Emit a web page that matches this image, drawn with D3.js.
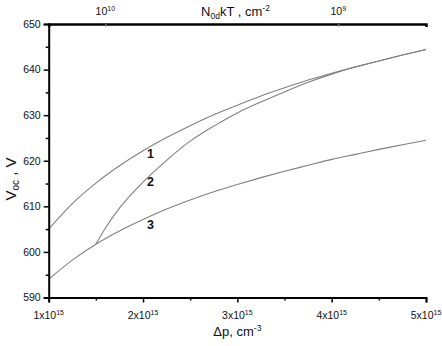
<!DOCTYPE html>
<html><head><meta charset="utf-8">
<script src="https://cdn.jsdelivr.net/npm/d3@7/dist/d3.min.js"></script>
<style>body{margin:0;background:#fff}svg{display:block}text{font-family:"Liberation Sans",Arial,sans-serif}</style>
</head><body><div id="chart"></div>
<script>
// Δp in units of 1e15 cm^-3, Voc in mV
const dp = [1, 1.25, 1.5, 1.75, 2, 2.25, 2.5, 2.75, 3, 3.25, 3.5, 3.75, 4, 4.25, 4.5, 4.75, 5];
const curve1 = [605.0, 610.6, 615.1, 618.9, 622.2, 625.1, 627.7, 630.1, 632.2, 634.2, 636.0, 637.7, 639.2, 640.6, 641.9, 643.2, 644.4];
const curve3 = [594.0, 598.2, 601.7, 604.6, 607.1, 609.4, 611.4, 613.2, 614.8, 616.3, 617.7, 619.0, 620.3, 621.4, 622.5, 623.5, 624.5];
const dp2 = [1.5, 1.6, 1.75, 2, 2.25, 2.5, 2.75, 3, 3.25, 3.5, 3.75, 4, 4.25, 4.5, 4.75, 5];
const curve2 = [601.7, 605.2, 609.6, 615.3, 620.1, 624.3, 627.6, 630.5, 632.9, 635.1, 637.2, 639.0, 640.55, 641.9, 643.2, 644.4];
const xTicks = [1, 2, 3, 4, 5];
const xMinor = [1.5, 2.5, 3.5, 4.5];
const yTicks = [590, 600, 610, 620, 630, 640, 650];
const yMinor = [595, 605, 615, 625, 635, 645];
const topTickExp = ["10", "9"];          // N0d kT = 10^exp
const topTickDp = [1.6, 4.07];           // Δp position of each top tick
const curveLabels = ["1", "2", "3"];
const labelDp = [2.08, 2.08, 2.08];
const labelV = [621.6, 615.4, 606.0];

const W = 442, H = 346;
const m = {l: 48.7, r: 16, t: 24, b: 48.5};
const svg = d3.select("#chart").append("svg").attr("width", W).attr("height", H);
const x = d3.scaleLinear().domain([1, 5]).range([m.l, W - m.r]);
const y = d3.scaleLinear().domain([590, 650]).range([H - m.b, m.t]);

const line = d3.line().x(d => x(d[0])).y(d => y(d[1])).curve(d3.curveMonotoneX);
const col = "#808080";
[[dp, curve1], [dp2, curve2], [dp, curve3]].forEach(([xs, ys]) => {
  svg.append("path").attr("d", line(xs.map((v, i) => [v, ys[i]])))
    .attr("fill", "none").attr("stroke", col).attr("stroke-width", 1.1);
});

// bottom axis
const gx = svg.append("g").attr("transform", `translate(0,${y(590)})`)
  .call(d3.axisBottom(x).tickValues(xTicks).tickSize(5).tickFormat(""));
gx.select(".domain").attr("stroke-width", 2);
gx.selectAll(".tick line").attr("stroke-width", 1.5);
svg.append("g").attr("transform", `translate(0,${y(590)})`)
  .call(d3.axisBottom(x).tickValues(xMinor).tickSize(3).tickFormat(""))
  .call(g => g.select(".domain").remove()).selectAll(".tick line").attr("stroke-width", 1.5);
xTicks.forEach(v => {
  const t = svg.append("text").attr("x", x(v)).attr("y", y(590) + 21).attr("text-anchor", "middle")
    .attr("font-size", 10.5).attr("fill", "#111");
  t.append("tspan").text(v + "x10");
  t.append("tspan").attr("font-size", 7).attr("dy", -4).text("15");
});

// left axis
const gy = svg.append("g").attr("transform", `translate(${x(1)},0)`)
  .call(d3.axisLeft(y).tickValues(yTicks).tickSize(5).tickPadding(3).tickFormat(d3.format("d")));
gy.select(".domain").attr("stroke-width", 2);
gy.selectAll(".tick line").attr("stroke-width", 1.5);
gy.selectAll(".tick text").attr("font-size", 10.5).attr("fill", "#111").attr("font-family", '"Liberation Sans",Arial,sans-serif');
svg.append("g").attr("transform", `translate(${x(1)},0)`)
  .call(d3.axisLeft(y).tickValues(yMinor).tickSize(3).tickFormat(""))
  .call(g => g.select(".domain").remove()).selectAll(".tick line").attr("stroke-width", 1.5);

// top axis
const gt = svg.append("g").attr("transform", `translate(0,${y(650)})`)
  .call(d3.axisTop(x).tickValues(topTickDp).tickSize(-3).tickFormat(""));
gt.select(".domain").attr("stroke-width", 2.5);
gt.selectAll(".tick line").attr("stroke", "#999").attr("stroke-width", 1);
topTickDp.forEach((v, i) => {
  const t = svg.append("text").attr("x", x(v)).attr("y", y(650) - 9).attr("text-anchor", "middle")
    .attr("font-size", 10.5).attr("fill", "#111");
  t.append("tspan").text("10");
  t.append("tspan").attr("font-size", 7).attr("dy", -4).text(topTickExp[i]);
});

// axis titles
const tt = svg.append("text").attr("x", x(2.98)).attr("y", y(650) - 8).attr("text-anchor", "middle")
  .attr("font-size", 13).attr("fill", "#111");
tt.append("tspan").text("N");
tt.append("tspan").attr("font-size", 8.5).attr("dy", 3).text("0d");
tt.append("tspan").attr("dy", -3).text("kT , cm");
tt.append("tspan").attr("font-size", 8.5).attr("dy", -5).text("-2");

const bt = svg.append("text").attr("x", x(3)).attr("y", y(590) + 38).attr("text-anchor", "middle")
  .attr("font-size", 13).attr("fill", "#111");
bt.append("tspan").text("Δp, cm");
bt.append("tspan").attr("font-size", 8.5).attr("dy", -5).text("-3");

const lt = svg.append("text").attr("transform", `translate(16,${y(616)}) rotate(-90)`).attr("text-anchor", "middle")
  .attr("font-size", 15).attr("fill", "#111");
lt.append("tspan").text("V");
lt.append("tspan").attr("font-size", 10).attr("dy", 3).text("oc");
lt.append("tspan").attr("dy", -3).text(" , V");

// curve labels
curveLabels.forEach((s, i) => {
  svg.append("text").attr("x", x(labelDp[i])).attr("y", y(labelV[i])).attr("text-anchor", "middle")
    .attr("dy", "0.35em").attr("font-size", 12.5).attr("font-weight", "bold").attr("fill", "#111").text(s);
});
</script></body></html>
